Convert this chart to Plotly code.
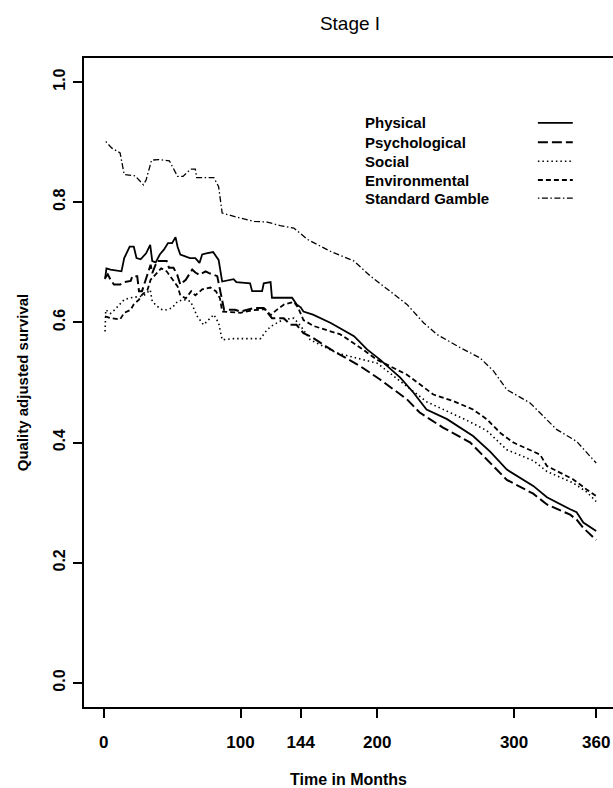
import plotly.graph_objects as go

# ---------------- data ----------------
phys_t = [1, 2, 5, 13, 15, 19, 22, 24, 27, 31, 34, 35.5, 38, 41, 44, 47, 50, 52.5, 54, 56,
          63, 67, 70, 72, 75, 80, 84, 86.6, 95, 97, 107, 108.5, 115.8, 117, 122, 123, 137.7,
          141, 144, 146, 153, 166, 183, 192.5, 202, 216.8, 226.5, 236, 251, 270, 282.5,
          294.7, 314, 324, 341, 345.7, 350.6, 360]
phys_v = [0.672, 0.690, 0.688, 0.685, 0.707, 0.726, 0.726, 0.707, 0.705, 0.715, 0.729, 0.702,
          0.700, 0.713, 0.721, 0.732, 0.732, 0.742, 0.726, 0.713, 0.707, 0.707, 0.699, 0.713,
          0.715, 0.717, 0.704, 0.668, 0.672, 0.667, 0.665, 0.652, 0.652, 0.665, 0.667, 0.641,
          0.641, 0.630, 0.625, 0.618, 0.613, 0.599, 0.577, 0.555, 0.538, 0.508, 0.483, 0.455,
          0.439, 0.411, 0.385, 0.355, 0.328, 0.309, 0.289, 0.284, 0.267, 0.253]

psych_t = [1, 3, 5, 7.5, 12, 15, 19.7, 21, 24.5, 25.8, 28, 31.8, 34.3, 35.5, 39, 42.8, 46,
           47.7, 51, 53.8, 56, 60, 64.7, 67, 70, 74.5, 77, 83, 84, 86.6, 88, 96, 100, 110,
           117, 123, 131.6, 136.5, 141, 146, 151, 166, 187.6, 202, 221.7, 231, 248, 268, 280,
           294.7, 314, 324, 341, 345.7, 350.6, 360]
psych_v = [0.674, 0.680, 0.671, 0.663, 0.663, 0.667, 0.669, 0.677, 0.677, 0.652, 0.652, 0.677,
           0.696, 0.682, 0.702, 0.702, 0.702, 0.691, 0.691, 0.679, 0.663, 0.671, 0.688, 0.683,
           0.679, 0.685, 0.682, 0.677, 0.665, 0.638, 0.621, 0.621, 0.618, 0.624, 0.624, 0.607,
           0.607, 0.596, 0.596, 0.582, 0.577, 0.555, 0.527, 0.505, 0.472, 0.450, 0.425, 0.400,
           0.372, 0.338, 0.315, 0.297, 0.280, 0.272, 0.258, 0.238]

social_t = [1, 1.5, 5, 8, 15, 19.7, 29, 34, 35.5, 39, 42.8, 46, 50, 54, 58.6, 63.5, 68.4, 73,
            77, 80.5, 84, 86.6, 95, 114.6, 119.5, 124, 131.6, 139, 144, 151, 170.5, 200, 236,
            265.5, 280, 294.7, 314, 324, 343, 353, 360]
social_v = [0.585, 0.621, 0.615, 0.621, 0.638, 0.641, 0.644, 0.654, 0.635, 0.627, 0.621, 0.621,
            0.624, 0.635, 0.638, 0.635, 0.610, 0.596, 0.605, 0.613, 0.599, 0.571, 0.573, 0.573,
            0.588, 0.596, 0.605, 0.607, 0.594, 0.571, 0.549, 0.532, 0.468, 0.437, 0.420, 0.388,
            0.370, 0.352, 0.333, 0.318, 0.302]

env_t = [1, 5, 12, 15, 19.7, 22, 25.8, 28, 32, 34.3, 38, 42, 46, 50, 54, 56, 60, 64, 67, 72,
         78, 82, 85, 86.6, 100, 108, 118, 122, 126, 132, 139, 142, 146, 153.5, 173, 187.6,
         199.7, 221.7, 241, 255.7, 270, 280, 290, 299.5, 319, 324, 343, 353, 360]
env_v = [0.610, 0.607, 0.605, 0.616, 0.621, 0.630, 0.638, 0.646, 0.654, 0.671, 0.680, 0.690,
         0.685, 0.672, 0.660, 0.645, 0.640, 0.652, 0.645, 0.655, 0.658, 0.652, 0.640, 0.618,
         0.616, 0.620, 0.622, 0.612, 0.620, 0.630, 0.634, 0.625, 0.604, 0.594, 0.580, 0.558,
         0.538, 0.513, 0.480, 0.469, 0.455, 0.439, 0.416, 0.400, 0.380, 0.361, 0.339, 0.322,
         0.311]

sg_t = [1.5, 6, 12, 15, 23, 29, 31, 35, 40, 48, 54, 58, 63.5, 67, 68, 80.5, 84, 86.6, 97.6,
        104, 110, 119.5, 129, 139, 149, 166, 183, 195, 209.5, 221.7, 234, 243.6, 260.6, 275,
        285, 294.7, 311.7, 321.4, 331, 345.7, 353, 360]
sg_v = [0.901, 0.890, 0.882, 0.846, 0.844, 0.829, 0.837, 0.870, 0.871, 0.869, 0.843, 0.843,
        0.855, 0.855, 0.841, 0.841, 0.826, 0.782, 0.775, 0.772, 0.768, 0.767, 0.761, 0.757,
        0.738, 0.718, 0.702, 0.677, 0.652, 0.630, 0.599, 0.580, 0.558, 0.541, 0.519, 0.488,
        0.466, 0.444, 0.422, 0.402, 0.383, 0.366]

series_names = ["Physical", "Psychological", "Social", "Environmental", "Standard Gamble"]
x_tick_vals = [0, 100, 144, 200, 300, 360]
x_tick_text = ["0", "100", "144", "200", "300", "360"]
y_tick_vals = [0.0, 0.2, 0.4, 0.6, 0.8, 1.0]
y_tick_text = ["0.0", "0.2", "0.4", "0.6", "0.8", "1.0"]

# ---------------- styles ----------------
FONT = "Liberation Sans, Arial, Helvetica, sans-serif"
styles = [
    dict(dash="solid", width=1.8),
    dict(dash="10px,4px", width=2.0),
    dict(dash="1.5px,3px", width=1.6),
    dict(dash="5px,3px", width=1.8),
    dict(dash="1.5px,2.5px,6px,2.5px", width=1.3),
]
data = [(phys_t, phys_v), (psych_t, psych_v), (social_t, social_v),
        (env_t, env_v), (sg_t, sg_v)]

fig = go.Figure()
for name, (t, v), st in zip(series_names, data, styles):
    fig.add_trace(go.Scatter(x=t, y=v, mode="lines", name=name, showlegend=False,
                             line=dict(color="black", dash=st["dash"], width=st["width"])))

# ---------------- custom R-style legend (text left, sample right) ----------------
leg_y = [0.900, 0.870, 0.841, 0.812, 0.784]
for name, st, yy in zip(series_names, styles, leg_y):
    fig.add_annotation(xref="paper", yref="paper", x=0.527, y=yy, text=name,
                       showarrow=False, xanchor="left", yanchor="middle",
                       font=dict(family=FONT, size=15, color="black", weight="bold"))
    fig.add_shape(type="line", xref="paper", yref="paper", x0=0.858, x1=0.924, y0=yy, y1=yy,
                  line=dict(color="black", dash=st["dash"], width=st["width"]))

fig.update_layout(
    width=613, height=788,
    margin=dict(l=84, r=0, t=58, b=81),
    paper_bgcolor="white", plot_bgcolor="white",
    title=dict(text="Stage I", x=0.571, xanchor="center", y=0.971, yanchor="middle",
               font=dict(family=FONT, size=19, color="black")),
    font=dict(family=FONT, color="black"),
)
fig.update_xaxes(
    range=[-14.4, 372.3], tickvals=x_tick_vals, ticktext=x_tick_text,
    showgrid=False, zeroline=False, showline=True, linecolor="black", linewidth=2,
    mirror=True, ticks="outside", ticklen=9, tickwidth=1.5, tickcolor="black",
    ticklabelstandoff=10,
    tickfont=dict(family=FONT, size=17, color="black", weight="bold"),
    title=dict(text="Time in Months", standoff=22,
               font=dict(family=FONT, size=16, color="black", weight="bold")),
)
fig.update_yaxes(
    range=[-0.04, 1.04], tickvals=y_tick_vals, ticktext=y_tick_text,
    showgrid=False, zeroline=False, showline=True, linecolor="black", linewidth=2,
    mirror=False, ticks="outside", ticklen=9, tickwidth=1.5, tickcolor="black",
    tickangle=-90, ticklabelstandoff=2,
    tickfont=dict(family=FONT, size=16, color="black", weight="bold"),
    title=dict(text="Quality adjusted survival", standoff=18,
               font=dict(family=FONT, size=15, color="black", weight="bold")),
)

fig.write_html("out.html")
